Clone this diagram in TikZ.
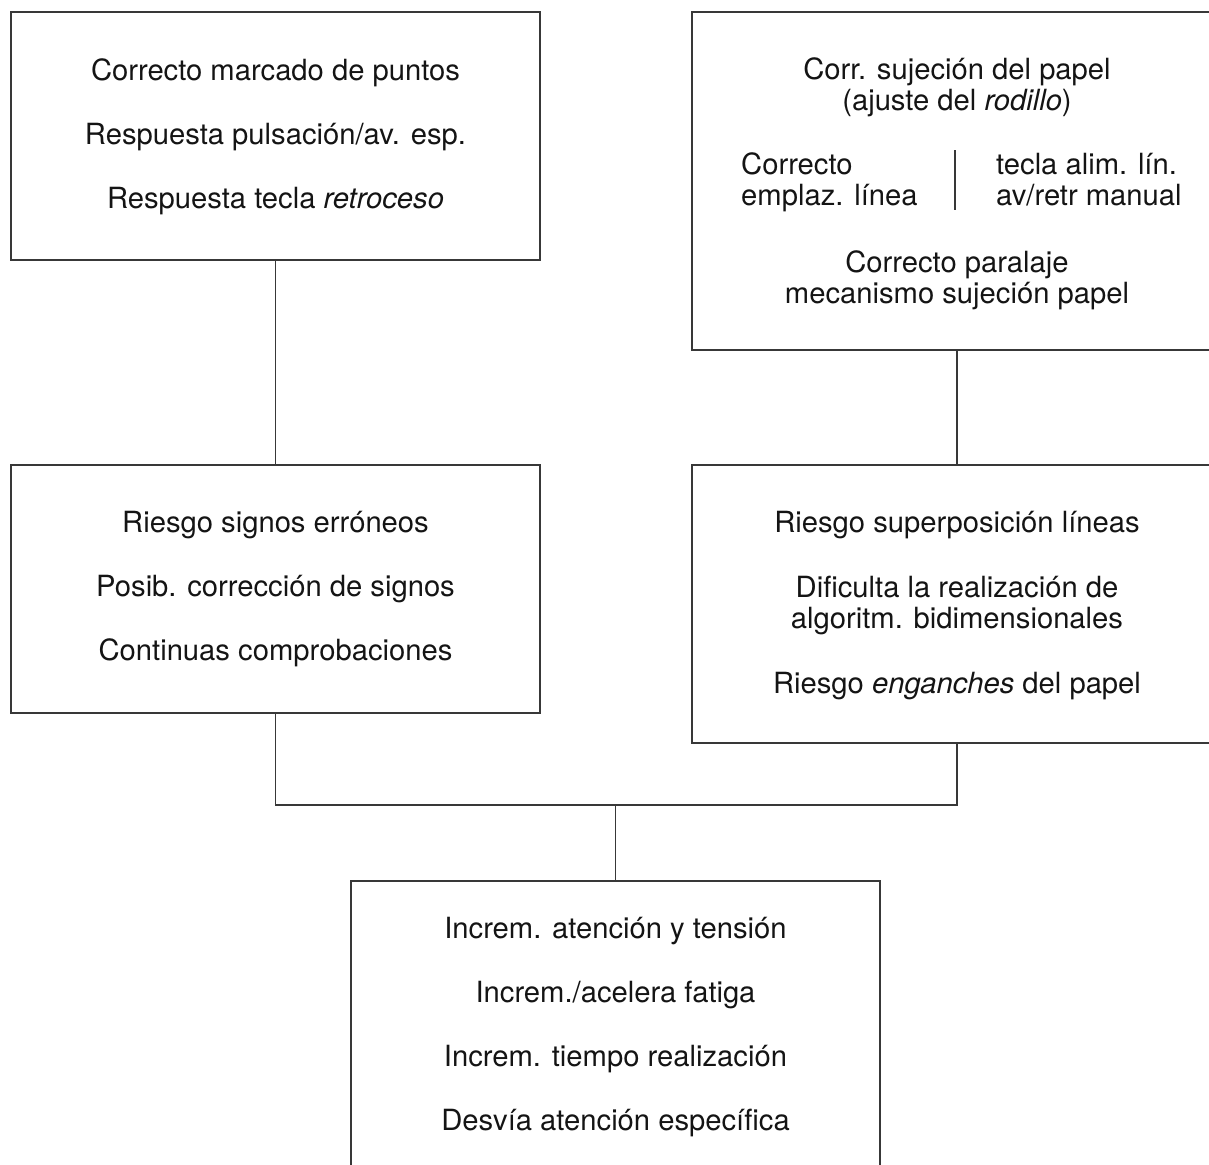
\documentclass[tikz,border=0pt]{standalone}
\usepackage{fontspec}
\setmainfont{TeX Gyre Heros}
\begin{document}
\begin{tikzpicture}[x=1pt,y=-1pt,
  box/.style={draw=black!78, line width=1.5pt, fill=none, inner sep=0pt, minimum width=529pt},
  conn/.style={draw=black!78, line width=1.5pt},
  txt/.style={anchor=base, inner sep=0pt, text=black!92, font=\fontsize{29.2}{31}\selectfont},
  txtl/.style={txt, anchor=base west}]
\useasboundingbox (0,0) rectangle (1209,1164);
\clip (0,0) rectangle (1209,1164);
% boxes
\node[box, minimum height=248pt] (A) at (275.5,136) {};
\node[box, minimum width=530pt, minimum height=338pt] (B) at (957,181) {};
\node[box, minimum height=248pt] (C) at (275.5,589) {};
\node[box, minimum width=530pt, minimum height=278pt] (D) at (957,604) {};
\node[box, minimum height=330pt] (E) at (615.5,1046) {};
% texts box A
\node[txt] (a1) at (275.5,81) {Correcto marcado de puntos};
\node[txt] (a2) at (275.5,144.5) {Respuesta pulsación/av. esp.};
\node[txt] (a3) at (275.5,208) {Respuesta tecla \textit{retroceso}};
% texts box B
\node[txt] (b1) at (957,79) {Corr. sujeción del papel};
\node[txt] (b2) at (957,110) {(ajuste del \textit{rodillo})};
\node[txtl] (b3) at (741,174) {Correcto};
\node[txtl] (b4) at (741,205) {emplaz. línea};
\node[txtl] (b5) at (996,174) {tecla alim. lín.};
\node[txtl] (b6) at (996,205) {av/retr manual};
\coordinate (vt) at (955,150);
\coordinate (vb) at (955,210);
\draw[conn] (vt) -- (vb);
\node[txt] (b7) at (957,272) {Correcto paralaje};
\node[txt] (b8) at (957,303) {mecanismo sujeción papel};
% texts box C
\node[txt] (c1) at (275.5,532) {Riesgo signos erróneos};
\node[txt] (c2) at (275.5,596) {Posib. corrección de signos};
\node[txt] (c3) at (275.5,660) {Continuas comprobaciones};
% texts box D
\node[txt] (d1) at (957,532) {Riesgo superposición líneas};
\node[txt] (d2) at (957,597) {Dificulta la realización de};
\node[txt] (d3) at (957,628) {algoritm. bidimensionales};
\node[txt] (d4) at (957,693) {Riesgo \textit{enganches} del papel};
% texts box E
\node[txt] (e1) at (615.5,938) {Increm. atención y tensión};
\node[txt] (e2) at (615.5,1002) {Increm./acelera fatiga};
\node[txt] (e3) at (615.5,1066) {Increm. tiempo realización};
\node[txt] (e4) at (615.5,1130) {Desvía atención específica};
% connectors
\draw[conn] (A.south) -- (C.north);
\draw[conn] (B.south) -- (D.north);
\coordinate (J) at (615.5,805);
\draw[conn] (C.south) |- (J) -| (D.south);
\draw[conn] (J) -- (E.north);
\end{tikzpicture}
\end{document}
